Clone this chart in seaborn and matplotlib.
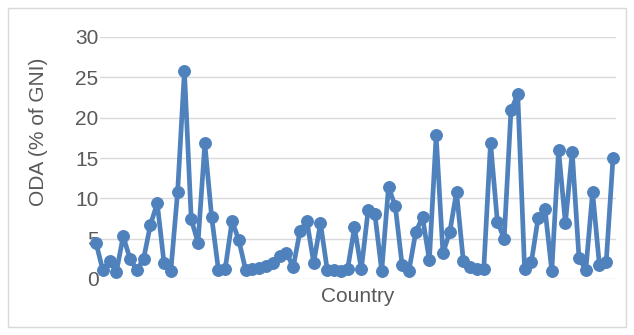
import matplotlib
matplotlib.use("Agg")
import matplotlib.pyplot as plt
import seaborn as sns
import numpy as np
import pandas as pd
from matplotlib.patches import Rectangle

# ODA as a share of GNI, one value per country (in dataset order)
oda_pct_gni = [
    4.5, 1.1, 2.2, 0.9, 5.3, 2.5, 1.1, 2.5, 6.7, 9.4,
    2.0, 1.0, 10.8, 25.8, 7.4, 4.5, 16.8, 7.7, 1.1, 1.3,
    7.2, 4.8, 1.1, 1.2, 1.4, 1.6, 2.0, 2.8, 3.2, 1.5,
    6.0, 7.2, 2.0, 6.9, 1.1, 1.1, 1.0, 1.3, 6.4, 1.2,
    8.5, 8.0, 1.0, 11.4, 9.0, 1.7, 1.0, 5.8, 7.7, 2.3,
    17.8, 3.2, 5.8, 10.8, 2.2, 1.5, 1.3, 1.2, 16.9, 7.1,
    5.0, 20.9, 22.9, 1.3, 2.1, 7.6, 8.7, 1.0, 16.0, 6.9,
    15.8, 2.6, 1.1, 10.8, 1.7, 2.1, 15.0,
]
country_index = list(range(len(oda_pct_gni)))
y_ticks = [0, 5, 10, 15, 20, 25, 30]

df = pd.DataFrame({"country": country_index, "oda": oda_pct_gni})

sns.set_style("white")
plt.rcParams["font.family"] = ["Liberation Sans", "DejaVu Sans"]

W, H = 634, 335
fig = plt.figure(figsize=(W / 100, H / 100), dpi=100)
ax = fig.add_axes([100 / W, 1 - 279 / H, 516 / W, 242 / H])

line_color = "#4f81bd"
text_color = "#595959"

sns.lineplot(data=df, x="country", y="oda", ax=ax, color=line_color,
             linewidth=3.4, marker="o", markersize=8.5,
             markeredgecolor=line_color, markerfacecolor=line_color,
             clip_on=False, zorder=3)

ax.set_ylim(0, 30)
ax.set_xlim(0.59, 76.44)
ax.set_yticks(y_ticks)
ax.set_yticklabels([str(t) for t in y_ticks])
ax.set_xticks([])
ax.tick_params(axis="y", length=0, pad=1, labelsize=15, labelcolor=text_color)
ax.grid(axis="y", color="#d9d9d9", linewidth=1.0)
ax.set_axisbelow(True)
for s in ax.spines.values():
    s.set_visible(False)

ax.set_xlabel("Country", fontsize=15, color=text_color, va="center")
ax.xaxis.set_label_coords(0.5, -0.074)
ax.set_ylabel("ODA (% of GNI)", fontsize=15, color=text_color, va="center")
ax.yaxis.set_label_coords(-0.12, 0.607)

# light frame around the chart area
fig.patches.append(Rectangle((8 / W, 8 / H), (626 - 8) / W, (327 - 8) / H,
                             transform=fig.transFigure, fill=False,
                             edgecolor="#d9d9d9", linewidth=1.0))

fig.savefig("out.png", dpi=100, facecolor="white")
